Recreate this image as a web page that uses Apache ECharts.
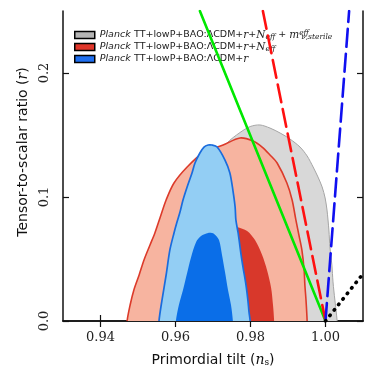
<!DOCTYPE html>
<html>
<head>
<meta charset="utf-8">
<script src="https://cdn.jsdelivr.net/npm/echarts@6/dist/echarts.min.js"></script>
<style>
  html, body { margin: 0; padding: 0; background: #fff; }
  #chart { width: 374px; height: 373px; }
</style>
</head>
<body>
<div id="chart"></div>
<script>
// tick values
const xTicks = [0.94, 0.96, 0.98, 1.0];
const yTicks = [0.0, 0.1, 0.2];

// contour boundaries [ns, r]
const grayOuter = [[0.958, 0], [0.9591, 0.0331], [0.9604, 0.0613], [0.962, 0.0859], [0.9639, 0.0996], [0.9665, 0.1128],
  [0.97, 0.1279], [0.9737, 0.1434], [0.9772, 0.152], [0.9799, 0.1568], [0.9825, 0.1581], [0.9852, 0.1556],
  [0.9879, 0.1516], [0.9905, 0.1468], [0.9932, 0.1403], [0.9951, 0.1331], [0.9967, 0.1242], [0.998, 0.1161],
  [0.9991, 0.1081], [0.9999, 0.0992], [1.0004, 0.0895], [1.0009, 0.0734], [1.0012, 0.0589], [1.0017, 0.0452],
  [1.002, 0.0315], [1.0025, 0.0169], [1.0031, 0]];
const redOuter = [[0.9471, 0], [0.9479, 0.0129], [0.9489, 0.025], [0.9503, 0.0371], [0.9516, 0.0492], [0.9532, 0.0613],
  [0.9545, 0.071], [0.9559, 0.0835], [0.9575, 0.0976], [0.9596, 0.1113], [0.9631, 0.1242], [0.9673, 0.1355],
  [0.9727, 0.1419], [0.9772, 0.1476], [0.9807, 0.1452], [0.9831, 0.1403], [0.9852, 0.1339], [0.9871, 0.1274],
  [0.9897, 0.1113], [0.9911, 0.0976], [0.9921, 0.0815], [0.9929, 0.0694], [0.9937, 0.0573], [0.9943, 0.0411],
  [0.9945, 0.029], [0.9948, 0.0169], [0.9951, 0]];
const redInner = [[0.9665, 0], [0.9673, 0.0331], [0.9687, 0.0573], [0.9705, 0.0734], [0.9732, 0.0798], [0.9764, 0.0758],
  [0.9791, 0.0726], [0.9812, 0.0653], [0.9831, 0.0532], [0.9844, 0.0411], [0.9855, 0.0266], [0.986, 0.0129], [0.9863, 0]];
const blueOuter = [[0.9556, 0], [0.9564, 0.0169], [0.9575, 0.0371], [0.9585, 0.0573], [0.9596, 0.071], [0.9604, 0.0798],
  [0.9612, 0.0879], [0.962, 0.0976], [0.9631, 0.1081], [0.9644, 0.1194], [0.9652, 0.1274], [0.9665, 0.1355],
  [0.9676, 0.1403], [0.9687, 0.1419], [0.9697, 0.1419], [0.9711, 0.1403], [0.9732, 0.1298], [0.9745, 0.1194],
  [0.9753, 0.1056], [0.9759, 0.0919], [0.9761, 0.0815], [0.9767, 0.071], [0.9775, 0.0532], [0.978, 0.0435],
  [0.9788, 0.029], [0.9793, 0.0169], [0.9796, 0.0073], [0.9799, 0]];
const blueInner = [[0.9601, 0], [0.9609, 0.0129], [0.962, 0.025], [0.9631, 0.0387], [0.9641, 0.0508], [0.9655, 0.0637],
  [0.9668, 0.0685], [0.9687, 0.071], [0.9703, 0.0702], [0.9716, 0.0653], [0.9724, 0.0532], [0.9732, 0.0395],
  [0.974, 0.025], [0.9748, 0.0129], [0.9753, 0]];

// model lines
const greenLine = [[0.9665, 0.25], [1.0, 0]];
const redDashLine = [[0.9833, 0.25], [1.0, 0]];
const blueDashLine = [[1.0, 0], [1.0063, 0.25]];
const blackDotLine = [[1.0, 0], [1.01, 0.038]];

const nameGray = "Planck TT+lowP+BAO:ΛCDM+r+Neff+meff";
const nameRed = "Planck TT+lowP+BAO:ΛCDM+r+Neff";
const nameBlue = "Planck TT+lowP+BAO:ΛCDM+r";
const legendText = {};
legendText[nameGray] = "{p|Planck} {t|TT+lowP+BAO:ΛCDM+}{m|r}{t|+}{m|N}{sb|eff}{t| + }{m|m}{sp|eff}{sb|ν,sterile}";
legendText[nameRed] = "{p|Planck} {t|TT+lowP+BAO:ΛCDM+}{m|r}{t|+}{m|N}{sb|eff}";
legendText[nameBlue] = "{p|Planck} {t|TT+lowP+BAO:ΛCDM+}{m|r}";

function contour(name, pts, fill, stroke, lw) {
  return {
    type: "custom",
    name: name,
    data: pts,
    clip: true,
    silent: true,
    itemStyle: { color: fill },
    renderItem: function (params, api) {
      if (params.dataIndex !== 0) return null;
      const points = pts.map((p) => api.coord(p));
      // push the ends a bit below the axis so smoothing doesn't lift them
      points.unshift([points[0][0], points[0][1] + 12]);
      points.push([points[points.length - 1][0], points[points.length - 1][1] + 12]);
      return {
        type: "polygon",
        shape: { points: points, smooth: 0.3 },
        style: { fill: fill, stroke: stroke || null, lineWidth: lw || 0 },
      };
    },
  };
}

function modelLine(pts, color, type, width) {
  return {
    type: "line",
    data: pts,
    symbol: "none",
    silent: true,
    z: 6,
    lineStyle: { color: color, width: width, type: type, cap: "round" },
  };
}

const chart = echarts.init(document.getElementById("chart"));
const axisCol = "#111";
const serif = "DejaVu Serif";
const sans = "DejaVu Sans";

chart.setOption({
  animation: false,
  grid: { left: 63, right: 11, top: 11, bottom: 52 },
  legend: {
    left: 69,
    top: 24,
    orient: "vertical",
    itemWidth: 20,
    itemHeight: 7,
    itemGap: 0,
    selectedMode: false,
    icon: "rect",
    data: [
      { name: nameGray, itemStyle: { color: "#b4b4b4", borderColor: "#000", borderWidth: 1.5 } },
      { name: nameRed, itemStyle: { color: "#e0362a", borderColor: "#000", borderWidth: 1.5 } },
      { name: nameBlue, itemStyle: { color: "#1f6ff0", borderColor: "#000", borderWidth: 1.5 } },
    ],
    formatter: (n) => legendText[n],
    textStyle: {
      color: "#222",
      lineHeight: 12,
      rich: {
        p: { fontFamily: sans, fontStyle: "italic", fontSize: 9.5, lineHeight: 12 },
        t: { fontFamily: sans, fontSize: 9.5, lineHeight: 12 },
        m: { fontFamily: serif, fontStyle: "italic", fontSize: 10.5, lineHeight: 12 },
        sb: { fontFamily: serif, fontStyle: "italic", fontSize: 7.5, lineHeight: 7, verticalAlign: "bottom" },
        sp: { fontFamily: serif, fontStyle: "italic", fontSize: 7.5, lineHeight: 7, verticalAlign: "top", width: 2 },
      },
    },
  },
  xAxis: [
    {
      type: "value",
      min: 0.93,
      max: 1.01,
      position: "bottom",
      name: "{a|Primordial tilt (}{i|n}{s|s}{a|)}",
      nameLocation: "middle",
      nameGap: 32,
      nameTextStyle: {
        rich: {
          a: { fontFamily: sans, fontSize: 14, color: "#111" },
          i: { fontFamily: serif, fontStyle: "italic", fontSize: 14, color: "#111" },
          s: { fontFamily: serif, fontSize: 9, color: "#111", verticalAlign: "bottom", lineHeight: 10 },
        },
      },
      axisLine: { lineStyle: { color: axisCol, width: 1.5 } },
      axisTick: { inside: true, length: 6, customValues: xTicks, lineStyle: { color: axisCol, width: 1.2 } },
      axisLabel: {
        customValues: xTicks,
        formatter: (v) => v.toFixed(2),
        fontFamily: serif,
        fontSize: 13,
        color: "#222",
        margin: 10,
      },
      splitLine: { show: false },
    },
    {
      type: "value",
      min: 0.93,
      max: 1.01,
      position: "top",
      axisLine: { lineStyle: { color: axisCol, width: 1.5 } },
      axisTick: { inside: true, length: 6, customValues: xTicks, lineStyle: { color: axisCol, width: 1.2 } },
      axisLabel: { show: false },
      splitLine: { show: false },
    },
  ],
  yAxis: [
    {
      type: "value",
      min: 0,
      max: 0.25,
      position: "left",
      name: "{a|Tensor-to-scalar ratio (}{i|r}{a|)}",
      nameLocation: "middle",
      nameGap: 28,
      nameTextStyle: {
        padding: [0, 0, 0, 28],
        rich: {
          a: { fontFamily: sans, fontSize: 14, color: "#111" },
          i: { fontFamily: serif, fontStyle: "italic", fontSize: 14, color: "#111" },
        },
      },
      axisLine: { lineStyle: { color: axisCol, width: 1.5 } },
      axisTick: { inside: true, length: 6, customValues: yTicks, lineStyle: { color: axisCol, width: 1.2 } },
      axisLabel: {
        customValues: yTicks,
        formatter: (v) => v.toFixed(1),
        rotate: 90,
        fontFamily: serif,
        fontSize: 13,
        color: "#222",
        margin: 12,
      },
      splitLine: { show: false },
    },
    {
      type: "value",
      min: 0,
      max: 0.25,
      position: "right",
      axisLine: { lineStyle: { color: axisCol, width: 1.5 } },
      axisTick: { inside: true, length: 6, customValues: yTicks, lineStyle: { color: axisCol, width: 1.2 } },
      axisLabel: { show: false },
      splitLine: { show: false },
    },
  ],
  series: [
    contour(nameGray, grayOuter, "#d8d8d8", "#a5a5a5", 1),
    contour(nameRed, redOuter, "#f7b4a0", "#dc3a2a", 1.6),
    contour("red68", redInner, "#d8382b"),
    contour(nameBlue, blueOuter, "#93cef4", "#1a6cdd", 1.7),
    contour("blue68", blueInner, "#0a6ee8"),
    modelLine(greenLine, "#00e800", "solid", 2.6),
    modelLine(redDashLine, "#ff1010", [18, 7], 2.6),
    modelLine(blueDashLine, "#1010f0", [18, 7], 2.6),
    modelLine(blackDotLine, "#000", [0.5, 6.5], 3.6),
  ],
});
</script>
</body>
</html>
